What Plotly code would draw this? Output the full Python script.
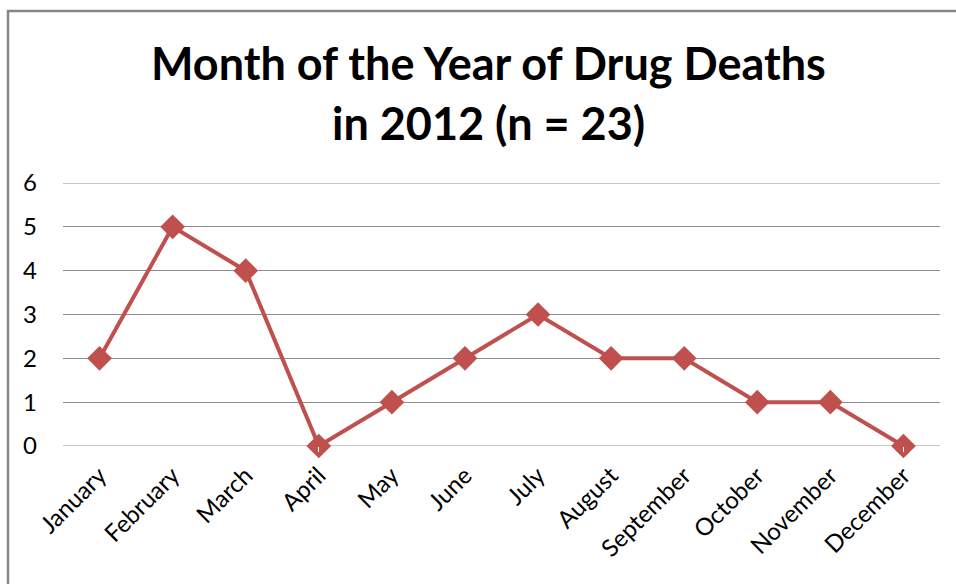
import plotly.graph_objects as go

months = ["January", "February", "March", "April", "May", "June", "July",
          "August", "September", "October", "November", "December"]
deaths = [2, 5, 4, 0, 1, 2, 3, 2, 2, 1, 1, 0]
y_ticks = [0, 1, 2, 3, 4, 5, 6]

FONT = "Lato, Open Sans, sans-serif"
RED = "#C0504D"
GRID = "#8C8C8C"

fig = go.Figure(go.Scatter(
    x=months, y=deaths, mode="lines+markers",
    line=dict(color=RED, width=4),
    marker=dict(symbol="diamond", size=19, color=RED),
    cliponaxis=False, showlegend=False,
))

W, H = 956, 584
L, R, T, B = 63, 16, 183, 138
pw, ph = W - L - R, H - T - B

def px_x(x):
    return (x - L) / pw

def px_y(y):
    return (H - B - y) / ph

# gridlines at the bottom and top of the value range
edge_lines = [dict(type="line", xref="paper", yref="y", x0=0, x1=1, y0=v, y1=v,
                   line=dict(color=GRID, width=1), layer="below")
              for v in (y_ticks[0], y_ticks[-1])]

frame = dict(type="rect", xref="paper", yref="paper",
             x0=px_x(8), x1=px_x(990), y0=px_y(620), y1=px_y(11),
             line=dict(color="#868686", width=2.5))

fig.update_layout(
    width=W, height=H,
    margin=dict(l=L, r=R, t=T, b=B),
    paper_bgcolor="white", plot_bgcolor="white",
    font=dict(family=FONT, size=24, color="#000000"),
    xaxis=dict(
        type="category", range=[-0.5, 11.5], showgrid=False,
        showline=False, zeroline=False, tickangle=-45,
        tickfont=dict(size=24), ticks="outside", ticklen=5, tickcolor="white",
    ),
    yaxis=dict(
        range=[y_ticks[0], y_ticks[-1]], tickvals=y_ticks, showgrid=True,
        gridcolor=GRID, gridwidth=1, zeroline=False, showline=False,
        tickfont=dict(size=24), ticklabelstandoff=25,
    ),
    shapes=edge_lines + [frame],
    annotations=[
        dict(text="<b>Month of the Year of Drug Deaths</b>", xref="paper", yref="paper",
             x=px_x(488), y=px_y(63), showarrow=False, xanchor="center", yanchor="middle",
             font=dict(family=FONT, size=45, color="#000000")),
        dict(text="<b>in 2012 (n = 23)</b>", xref="paper", yref="paper",
             x=px_x(488), y=px_y(123), showarrow=False, xanchor="center", yanchor="middle",
             font=dict(family=FONT, size=45, color="#000000")),
    ],
)

fig.write_html("out.html")
